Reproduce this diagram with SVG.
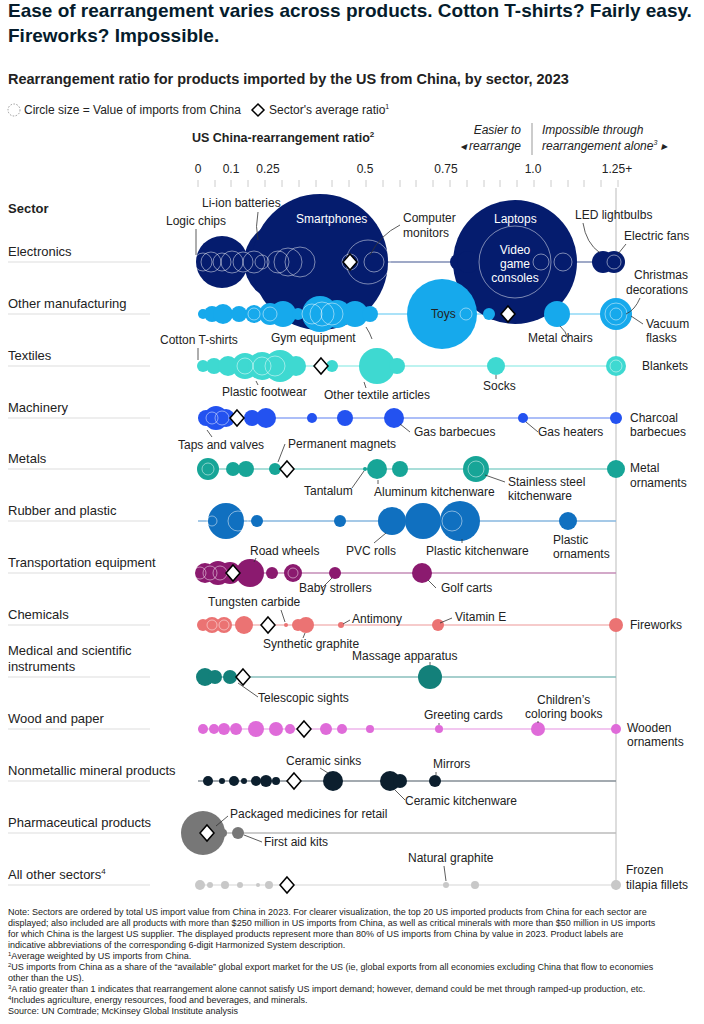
<svg xmlns="http://www.w3.org/2000/svg" width="704" height="1024" viewBox="0 0 704 1024">
<style>
text{font-family:"Liberation Sans",Arial,sans-serif;fill:#222}
.t{font-size:19px;font-weight:bold;fill:#051c2c}
.st{font-size:14.5px;font-weight:bold}
.lg{font-size:12px}
.ax{font-size:12px;fill:#888}
.sec{font-size:13px}
.lb{font-size:12px}
.it{font-size:12px;font-style:italic}
.n{font-size:9px;fill:#777}
.sep{stroke:#ddd;stroke-width:1}
.ld{stroke:#333;stroke-width:0.8;fill:none}
.o{fill:none;stroke:#fff;stroke-opacity:0.6;stroke-width:0.8}
.dm{fill:#fff;stroke:#000;stroke-width:1.5}
</style>
<rect width="704" height="1024" fill="#fff"/>
<text class="t" x="8" y="17">Ease of rearrangement varies across products. Cotton T-shirts? Fairly easy.</text>
<text class="t" x="8" y="42">Fireworks? Impossible.</text>
<text class="st" x="8" y="84">Rearrangement ratio for products imported by the US from China, by sector, 2023</text>
<circle cx="14" cy="110" r="6" fill="none" stroke="#999" stroke-dasharray="1.5,1.5"/>
<text class="lg" x="24" y="114">Circle size = Value of imports from China</text>
<path d="M258,104 l6,6 l-6,6 l-6,-6z" class="dm"/>
<text class="lg" x="269" y="114">Sector's average ratio<tspan font-size="7" dy="-5">1</tspan></text>
<text x="192" y="142" font-size="12.5" font-weight="bold">US China-rearrangement ratio<tspan font-size="8" dy="-5">2</tspan></text>
<text class="it" x="521" y="134" text-anchor="end">Easier to</text>
<text class="it" x="521" y="150" text-anchor="end">◂ rearrange</text>
<line x1="532" y1="123" x2="532" y2="155" stroke="#999"/>
<text class="it" x="542" y="134">Impossible through</text>
<text class="it" x="542" y="150">rearrangement alone<tspan font-size="7" dy="-5">3</tspan><tspan dy="5"> ▸</tspan></text>
<g class="ax">
<text x="198" y="173" text-anchor="middle">0</text><text x="231" y="173" text-anchor="middle">0.1</text><text x="268" y="173" text-anchor="middle">0.25</text><text x="365" y="173" text-anchor="middle">0.5</text><text x="446" y="173" text-anchor="middle">0.75</text><text x="533" y="173" text-anchor="middle">1.0</text><text x="617" y="173" text-anchor="middle">1.25+</text>
</g>
<g stroke="#ccc" stroke-width="1">
<path d="M198,180v7M215,180v7M231,180v7M248,180v7M265,180v7M282,180v7M299,180v7M316,180v7M332,180v7M349,180v7M366,180v7M383,180v7M400,180v7M416,180v7M433,180v7M450,180v7M467,180v7M484,180v7M500,180v7M517,180v7M534,180v7M551,180v7M568,180v7M584,180v7M601,180v7M618,180v7"/>
</g>
<text x="8" y="213" font-size="13" font-weight="bold">Sector</text>
<g id="sectors" class="sec">
<text x="8" y="256">Electronics</text><line class="sep" x1="8" y1="262" x2="150" y2="262"/>
<text x="8" y="308">Other manufacturing</text><line class="sep" x1="8" y1="314" x2="150" y2="314"/>
<text x="8" y="360">Textiles</text><line class="sep" x1="8" y1="366" x2="150" y2="366"/>
<text x="8" y="412">Machinery</text><line class="sep" x1="8" y1="418" x2="150" y2="418"/>
<text x="8" y="463">Metals</text><line class="sep" x1="8" y1="469" x2="150" y2="469"/>
<text x="8" y="515">Rubber and plastic</text><line class="sep" x1="8" y1="521" x2="150" y2="521"/>
<text x="8" y="567">Transportation equipment</text><line class="sep" x1="8" y1="573" x2="150" y2="573"/>
<text x="8" y="619">Chemicals</text><line class="sep" x1="8" y1="625" x2="150" y2="625"/>
<text x="8" y="655">Medical and scientific</text><text x="8" y="671">instruments</text><line class="sep" x1="8" y1="677" x2="150" y2="677"/>
<text x="8" y="723">Wood and paper</text><line class="sep" x1="8" y1="729" x2="150" y2="729"/>
<text x="8" y="775">Nonmetallic mineral products</text><line class="sep" x1="8" y1="781" x2="150" y2="781"/>
<text x="8" y="827">Pharmaceutical products</text><line class="sep" x1="8" y1="833" x2="150" y2="833"/>
<text x="8" y="879">All other sectors<tspan font-size="8" dy="-5">4</tspan></text><line class="sep" x1="8" y1="885" x2="150" y2="885"/>
</g>
<g id="connectors" stroke-width="1.5">
<line x1="616" y1="188" x2="616" y2="890" stroke="#bbb" stroke-width="1"/>
<line x1="198" y1="262" x2="616" y2="262" stroke="#7f8db5"/>
<line x1="198" y1="314" x2="616" y2="314" stroke="#8fd8f6"/>
<line x1="198" y1="366" x2="616" y2="366" stroke="#a7efeb"/>
<line x1="198" y1="418" x2="616" y2="418" stroke="#90a9f6"/>
<line x1="198" y1="469" x2="616" y2="469" stroke="#8cd3cc"/>
<line x1="198" y1="521" x2="616" y2="521" stroke="#87b7df"/>
<line x1="198" y1="573" x2="616" y2="573" stroke="#c58cb7"/>
<line x1="198" y1="625" x2="616" y2="625" stroke="#f3baba"/>
<line x1="198" y1="677" x2="616" y2="677" stroke="#89bfbc"/>
<line x1="198" y1="729" x2="616" y2="729" stroke="#eeb4eb"/>
<line x1="198" y1="781" x2="616" y2="781" stroke="#858e96"/>
<line x1="198" y1="833" x2="616" y2="833" stroke="#bbb"/>
<line x1="198" y1="885" x2="616" y2="885" stroke="#e3e3e3"/>
</g>
<g id="electronics" fill="#051c6e">
<circle cx="222" cy="262" r="26"/><circle cx="284" cy="262" r="40"/><circle cx="320" cy="262" r="68"/><circle cx="515" cy="262" r="62"/>
<circle cx="458" cy="262" r="8"/><circle cx="468" cy="262" r="11"/><circle cx="603" cy="262" r="11"/><circle cx="614" cy="262" r="11"/>
<g class="o"><circle cx="203" cy="262" r="9"/><circle cx="211" cy="262" r="10"/><circle cx="222" cy="262" r="9"/><circle cx="232" cy="262" r="11"/><circle cx="243" cy="262" r="10"/><circle cx="254" cy="262" r="11"/><circle cx="262" cy="262" r="7"/><circle cx="278" cy="262" r="11"/><circle cx="288" cy="262" r="14"/><circle cx="300" cy="262" r="15"/><circle cx="350" cy="262" r="8"/><circle cx="368" cy="262" r="22"/><circle cx="374" cy="262" r="10"/><circle cx="515" cy="262" r="36"/><circle cx="541" cy="262" r="8"/><circle cx="563" cy="262" r="9"/><circle cx="614" cy="262" r="7"/></g>
</g>
<g id="othermfg" fill="#16a9ec">
<circle cx="442" cy="314" r="35"/>
<circle cx="203" cy="314" r="5"/><circle cx="212" cy="314" r="8"/><circle cx="223" cy="314" r="10"/><circle cx="239" cy="314" r="8"/><circle cx="254" cy="314" r="9"/><circle cx="270" cy="314" r="11"/><circle cx="283" cy="314" r="13"/><circle cx="298" cy="314" r="6"/><circle cx="320" cy="314" r="18"/><circle cx="337" cy="314" r="14"/><circle cx="355" cy="314" r="13"/><circle cx="370" cy="314" r="8"/><circle cx="489" cy="314" r="6"/><circle cx="557" cy="314" r="13"/><circle cx="616" cy="314" r="16"/>
<g class="o"><circle cx="254" cy="314" r="6"/><circle cx="270" cy="314" r="7"/><circle cx="312" cy="314" r="10"/><circle cx="322" cy="314" r="12"/><circle cx="332" cy="314" r="11"/><circle cx="466" cy="314" r="6"/><circle cx="616" cy="314" r="11"/><circle cx="616" cy="314" r="6"/></g>
</g>
<g id="textiles" fill="#3ed9d1">
<circle cx="203" cy="366" r="6"/><circle cx="214" cy="366" r="8"/><circle cx="228" cy="366" r="10"/><circle cx="245" cy="366" r="13"/><circle cx="262" cy="366" r="14"/><circle cx="280" cy="366" r="16"/><circle cx="296" cy="366" r="10"/><circle cx="332" cy="366" r="6"/><circle cx="377" cy="366" r="18"/><circle cx="397" cy="366" r="8"/><circle cx="496" cy="366" r="9"/><circle cx="616" cy="366" r="10"/>
<g class="o"><circle cx="245" cy="366" r="8"/><circle cx="262" cy="366" r="9"/><circle cx="275" cy="366" r="10"/><circle cx="616" cy="366" r="6"/></g>
</g>
<g id="machinery" fill="#2352f0">
<circle cx="206" cy="418" r="8"/><circle cx="216" cy="418" r="12"/><circle cx="226" cy="418" r="9"/><circle cx="252" cy="418" r="8"/><circle cx="266" cy="418" r="10"/><circle cx="312" cy="418" r="5"/><circle cx="345" cy="418" r="8"/><circle cx="394" cy="418" r="10"/><circle cx="523" cy="418" r="5"/><circle cx="616" cy="418" r="6"/>
<g class="o"><circle cx="212" cy="418" r="6"/><circle cx="222" cy="418" r="7"/></g>
</g>
<g id="metals" fill="#17a597">
<circle cx="208" cy="469" r="11"/><circle cx="233" cy="469" r="7"/><circle cx="246" cy="469" r="8"/><circle cx="275" cy="469" r="6"/><circle cx="365" cy="469" r="2"/><circle cx="377" cy="469" r="10"/><circle cx="400" cy="469" r="8"/><circle cx="476" cy="469" r="13"/><circle cx="616" cy="469" r="9"/>
<g class="o"><circle cx="208" cy="469" r="6"/><circle cx="476" cy="469" r="8"/></g>
</g>
<g id="rubber" fill="#1070c0">
<circle cx="226" cy="521" r="18"/><circle cx="257" cy="521" r="6"/><circle cx="340" cy="521" r="6"/><circle cx="392" cy="521" r="14"/><circle cx="423" cy="521" r="18"/><circle cx="460" cy="521" r="20"/><circle cx="568" cy="521" r="9"/>
<g class="o"><circle cx="212" cy="521" r="5"/><circle cx="238" cy="521" r="10"/><circle cx="452" cy="521" r="10"/></g>
</g>
<g id="transport" fill="#8b1a6f">
<circle cx="205" cy="573" r="10"/><circle cx="218" cy="573" r="12"/><circle cx="230" cy="573" r="11"/><circle cx="250" cy="573" r="14"/><circle cx="272" cy="573" r="6"/><circle cx="293" cy="573" r="9"/><circle cx="335" cy="573" r="6"/><circle cx="422" cy="573" r="10"/>
<g class="o"><circle cx="200" cy="573" r="6"/><circle cx="210" cy="573" r="7"/><circle cx="220" cy="573" r="7"/><circle cx="293" cy="573" r="5"/></g>
</g>
<g id="chemicals" fill="#eb7373">
<circle cx="203" cy="625" r="6"/><circle cx="212" cy="625" r="8"/><circle cx="224" cy="625" r="8"/><circle cx="244" cy="625" r="9"/><circle cx="286" cy="625" r="2"/><circle cx="298" cy="625" r="6"/><circle cx="306" cy="625" r="8"/><circle cx="341" cy="625" r="3"/><circle cx="438" cy="625" r="6"/><circle cx="616" cy="625" r="7"/>
<g class="o"><circle cx="212" cy="625" r="5"/><circle cx="224" cy="625" r="5"/></g>
</g>
<g id="medical" fill="#13807a">
<circle cx="205" cy="677" r="9"/><circle cx="215" cy="677" r="7"/><circle cx="230" cy="677" r="7"/><circle cx="430" cy="677" r="12"/>
</g>
<g id="wood" fill="#df6bd9">
<circle cx="203" cy="729" r="5"/><circle cx="214" cy="729" r="5"/><circle cx="224" cy="729" r="6"/><circle cx="236" cy="729" r="6"/><circle cx="256" cy="729" r="8"/><circle cx="276" cy="729" r="7"/><circle cx="290" cy="729" r="5"/><circle cx="326" cy="729" r="6"/><circle cx="342" cy="729" r="5"/><circle cx="370" cy="729" r="4"/><circle cx="439" cy="729" r="4"/><circle cx="538" cy="729" r="7"/><circle cx="616" cy="729" r="5"/>
</g>
<g id="nonmetallic" fill="#0c1f2e">
<circle cx="208" cy="781" r="5"/><circle cx="222" cy="781" r="3"/><circle cx="234" cy="781" r="5"/><circle cx="244" cy="781" r="3"/><circle cx="256" cy="781" r="5"/><circle cx="266" cy="781" r="6"/><circle cx="276" cy="781" r="4"/><circle cx="333" cy="781" r="10"/><circle cx="390" cy="781" r="10"/><circle cx="400" cy="781" r="7"/><circle cx="435" cy="781" r="6"/>
</g>
<g id="pharma" fill="#777">
<circle cx="203" cy="833" r="22"/><circle cx="238" cy="833" r="6"/><circle cx="223" cy="833" r="4"/>
</g>
<g id="allother" fill="#c8c8c8">
<circle cx="200" cy="885" r="5"/><circle cx="210" cy="885" r="3"/><circle cx="225" cy="885" r="4"/><circle cx="240" cy="885" r="3"/><circle cx="258" cy="885" r="2"/><circle cx="269" cy="885" r="4"/><circle cx="446" cy="885" r="3"/><circle cx="475" cy="885" r="4"/><circle cx="616" cy="885" r="5"/>
</g>
<g id="diamonds" class="dm">
<path d="M350,254l7,8l-7,8l-7,-8z"/><path d="M508,306l7,8l-7,8l-7,-8z"/><path d="M321,358l7,8l-7,8l-7,-8z"/><path d="M237,410l7,8l-7,8l-7,-8z"/><path d="M287,461l7,8l-7,8l-7,-8z"/><path d="M233,565l7,8l-7,8l-7,-8z"/><path d="M268,617l7,8l-7,8l-7,-8z"/><path d="M243,669l7,8l-7,8l-7,-8z"/><path d="M304,721l7,8l-7,8l-7,-8z"/><path d="M294,773l7,8l-7,8l-7,-8z"/><path d="M207,825l7,8l-7,8l-7,-8z"/><path d="M287,877l7,8l-7,8l-7,-8z"/>
</g>
<g id="labels" class="lb">
<text x="166" y="225">Logic chips</text><path class="ld" d="M196,229 v26"/>
<text x="202" y="207">Li-ion batteries</text><path class="ld" d="M258,212 q-3,15 0,28"/>
<text x="296" y="223" style="fill:#fff">Smartphones</text>
<text x="403" y="222">Computer</text><text x="403" y="237">monitors</text><path class="ld" d="M400,225 q-20,10 -30,30"/>
<text x="494" y="223" style="fill:#fff">Laptops</text>
<text x="515" y="254" text-anchor="middle" style="fill:#fff">Video</text><text x="515" y="268" text-anchor="middle" style="fill:#fff">game</text><text x="515" y="282" text-anchor="middle" style="fill:#fff">consoles</text>
<text x="575" y="219">LED lightbulbs</text><path class="ld" d="M583,223 q3,20 17,30"/>
<text x="624" y="240">Electric fans</text><path class="ld" d="M626,244 l-8,10"/>
<text x="688" y="279" text-anchor="end">Christmas</text><text x="688" y="294" text-anchor="end">decorations</text><path class="ld" d="M640,298 q-5,12 -14,16"/>
<text x="646" y="328">Vacuum</text><text x="646" y="342">flasks</text><path class="ld" d="M643,324 l-12,-8"/>
<text x="431" y="318">Toys</text>
<text x="528" y="342">Metal chairs</text><path class="ld" d="M560,326 q6,5 8,13"/>
<text x="271" y="342">Gym equipment</text><path class="ld" d="M366,327 q4,6 6,12"/>
<text x="160" y="344">Cotton T-shirts</text><path class="ld" d="M198,348 v12"/>
<text x="222" y="396">Plastic footwear</text><path class="ld" d="M258,385 l-2,-4"/>
<text x="324" y="399">Other textile articles</text><path class="ld" d="M366,388 l-2,-6"/>
<text x="483" y="390">Socks</text><path class="ld" d="M496,375 v4"/>
<text x="642" y="370">Blankets</text>
<text x="178" y="449">Taps and valves</text><path class="ld" d="M212,437 l-5,-7"/>
<text x="414" y="436">Gas barbecues</text><path class="ld" d="M410,432 l-10,-8"/>
<text x="538" y="436">Gas heaters</text><path class="ld" d="M538,432 l-12,-10"/>
<text x="630" y="422">Charcoal</text><text x="630" y="436">barbecues</text>
<text x="288" y="448">Permanent magnets</text><path class="ld" d="M285,444 l-7,18"/>
<text x="304" y="495">Tantalum</text><path class="ld" d="M352,488 l12,-17"/>
<text x="374" y="496">Aluminum kitchenware</text><path class="ld" d="M378,480 v4"/>
<text x="508" y="486">Stainless steel</text><text x="508" y="500">kitchenware</text><path class="ld" d="M505,482 l-20,-7"/>
<text x="630" y="472">Metal</text><text x="630" y="487">ornaments</text>
<text x="346" y="555">PVC rolls</text><path class="ld" d="M374,543 l12,-10"/>
<text x="426" y="555">Plastic kitchenware</text><path class="ld" d="M462,543 v-4"/>
<text x="553" y="544">Plastic</text><text x="553" y="558">ornaments</text>
<text x="250" y="555">Road wheels</text><path class="ld" d="M256,558 l-2,4"/>
<text x="299" y="592">Baby strollers</text><path class="ld" d="M322,588 l10,-10"/>
<text x="441" y="592">Golf carts</text><path class="ld" d="M436,588 l-8,-8"/>
<text x="208" y="606">Tungsten carbide</text><path class="ld" d="M281,610 l4,12"/>
<text x="352" y="623">Antimony</text><path class="ld" d="M350,620 l-7,4"/>
<text x="455" y="621">Vitamin E</text><path class="ld" d="M452,618 l-12,5"/>
<text x="263" y="648">Synthetic graphite</text><path class="ld" d="M303,638 l2,-5"/>
<text x="630" y="629">Fireworks</text>
<text x="352" y="660">Massage apparatus</text><path class="ld" d="M430,662 v3"/>
<text x="258" y="702">Telescopic sights</text><path class="ld" d="M258,697 l-20,-14"/>
<text x="424" y="719">Greeting cards</text><path class="ld" d="M439,723 v2"/>
<text x="537" y="704">Children’s</text><text x="525" y="718">coloring books</text><path class="ld" d="M538,721 v2"/>
<text x="627" y="732">Wooden</text><text x="627" y="746">ornaments</text>
<text x="286" y="765">Ceramic sinks</text><path class="ld" d="M320,768 l8,5"/>
<text x="433" y="768">Mirrors</text><path class="ld" d="M436,772 v3"/>
<text x="405" y="805">Ceramic kitchenware</text><path class="ld" d="M405,800 l-10,-10"/>
<text x="230" y="818">Packaged medicines for retail</text><path class="ld" d="M228,816 l-12,10"/>
<text x="264" y="846">First aid kits</text><path class="ld" d="M262,842 l-18,-7"/>
<text x="408" y="862">Natural graphite</text><path class="ld" d="M444,866 l2,15"/>
<text x="626" y="874">Frozen</text><text x="626" y="889">tilapia fillets</text>
</g>
<g class="n">
<text x="8" y="915">Note: Sectors are ordered by total US import value from China in 2023. For clearer visualization, the top 20 US imported products from China for each sector are</text>
<text x="8" y="926">displayed; also included are all products with more than $250 million in US imports from China, as well as critical minerals with more than $50 million in US imports</text>
<text x="8" y="937">for which China is the largest US supplier. The displayed products represent more than 80% of US imports from China by value in 2023. Product labels are</text>
<text x="8" y="948">indicative abbreviations of the corresponding 6-digit Harmonized System description.</text>
<text x="8" y="959"><tspan font-size="6" dy="-3">1</tspan><tspan dy="3">Average weighted by US imports from China.</tspan></text>
<text x="8" y="970"><tspan font-size="6" dy="-3">2</tspan><tspan dy="3">US imports from China as a share of the “available” global export market for the US (ie, global exports from all economies excluding China that flow to economies</tspan></text>
<text x="8" y="981">other than the US).</text>
<text x="8" y="992"><tspan font-size="6" dy="-3">3</tspan><tspan dy="3">A ratio greater than 1 indicates that rearrangement alone cannot satisfy US import demand; however, demand could be met through ramped-up production, etc.</tspan></text>
<text x="8" y="1003"><tspan font-size="6" dy="-3">4</tspan><tspan dy="3">Includes agriculture, energy resources, food and beverages, and minerals.</tspan></text>
<text x="8" y="1014">Source: UN Comtrade; McKinsey Global Institute analysis</text>
</g>
</svg>
